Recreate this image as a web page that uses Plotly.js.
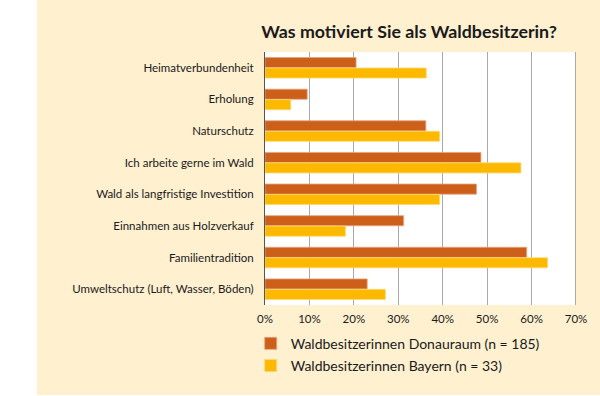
<!DOCTYPE html>
<html>
<head>
<meta charset="utf-8">
<script src="https://cdn.plot.ly/plotly-3.0.1.min.js"></script>
<style>html,body{margin:0;padding:0;background:#fff;}#chart{width:600px;height:396px;}</style>
</head>
<body>
<div id="chart"></div>
<script>
const categories = [
  "Heimatverbundenheit",
  "Erholung",
  "Naturschutz",
  "Ich arbeite gerne im Wald",
  "Wald als langfristige Investition",
  "Einnahmen aus Holzverkauf",
  "Familientradition",
  "Umweltschutz (Luft, Wasser, Böden)"
];
const donauraum = [20.5, 9.5, 36.2, 48.6, 47.6, 31.2, 58.9, 23.0];
const bayern = [36.3, 5.8, 39.3, 57.6, 39.3, 18.1, 63.6, 27.1];
const seriesNames = ["Waldbesitzerinnen Donauraum (n = 185)", "Waldbesitzerinnen Bayern (n = 33)"];
const tickVals = [0, 10, 20, 30, 40, 50, 60, 70];
const tickText = ["0%", "10%", "20%", "30%", "40%", "50%", "60%", "70%"];

const FONT = "Lato, 'Open Sans', sans-serif";

const traces = [
  {type: "bar", orientation: "h", y: categories, x: donauraum, name: seriesNames[0],
   legendgroup: "a",
   marker: {color: "#cc5f1a", line: {color: "#eaa27a", width: 0.8}}, hoverinfo: "x+y"},
  {type: "bar", orientation: "h", y: categories, x: bayern, name: seriesNames[1],
   legendgroup: "b",
   marker: {color: "#fcb900", line: {color: "#ffd873", width: 0.8}}, hoverinfo: "x+y"}
];

const layout = {
  width: 600, height: 396,
  margin: {l: 265, r: 24, t: 52, b: 91},
  paper_bgcolor: "#fff0d0",
  plot_bgcolor: "#ffffff",
  font: {family: FONT, color: "#1a1a1a", size: 12},
  title: {text: "<b>Was motiviert Sie als Waldbesitzerin?</b>", font: {family: FONT, size: 17.8, color: "#1a1a1a"},
          x: 409/600, xanchor: "center", y: 1 - 32/396, yanchor: "middle"},
  barmode: "group",
  bargap: 0.34,
  bargroupgap: 0.03,
  showlegend: true,
  legend: {x: -0.046, xanchor: "left", y: -0.09, yanchor: "top", orientation: "v",
           traceorder: "grouped", tracegroupgap: 1, bgcolor: "rgba(0,0,0,0)",
           font: {family: FONT, size: 14, color: "#1a1a1a"}},
  xaxis: {range: [0, 70], tickvals: tickVals, ticktext: tickText, showgrid: true,
          gridcolor: "#a9a9a9", gridwidth: 1, zeroline: false, showline: false,
          ticks: "outside", ticklen: 3, tickcolor: "rgba(0,0,0,0)",
          tickfont: {family: FONT, size: 11.5, color: "#1a1a1a"}, fixedrange: true},
  yaxis: {autorange: "reversed", showline: true, linecolor: "#555555", linewidth: 1,
          ticks: "outside", ticklen: 8, tickcolor: "rgba(0,0,0,0)", showgrid: false,
          tickfont: {family: FONT, size: 11.5, color: "#1a1a1a"}, fixedrange: true},
  shapes: [
    {type: "rect", xref: "paper", yref: "paper", x0: -1, x1: (37 - 265) / 311, y0: -1, y1: 2,
     fillcolor: "#ffffff", line: {width: 0}, layer: "below"},
    {type: "rect", xref: "paper", yref: "paper", x0: -1, x1: 2, y0: -1, y1: (305 - 395) / 253,
     fillcolor: "#ffffff", line: {width: 0}, layer: "below"},
    {type: "line", xref: "x", yref: "paper", x0: 70, x1: 70, y0: 0, y1: 1,
     line: {color: "#555555", width: 1}}
  ]
};

Plotly.newPlot("chart", traces, layout, {displayModeBar: false, staticPlot: true});
</script>
</body>
</html>
